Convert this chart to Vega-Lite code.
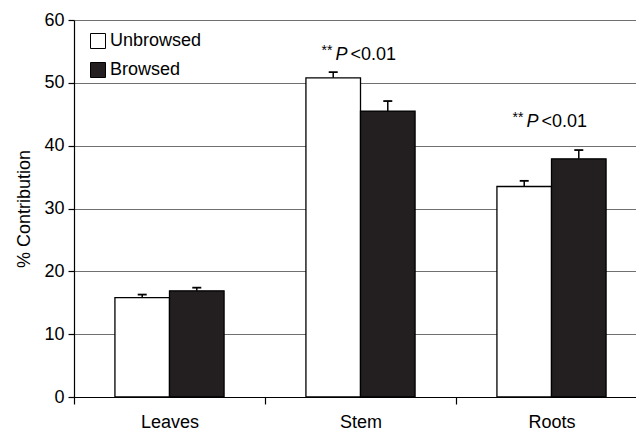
{
  "$schema": "https://vega.github.io/schema/vega-lite/v6.json",
  "width": 562,
  "height": 377,
  "autosize": {"type": "none"},
  "padding": {"left": 74, "top": 20, "right": 0, "bottom": 34},
  "background": "white",
  "config": {
    "font": "Liberation Sans",
    "view": {"stroke": null},
    "axis": {"labelColor": "black", "titleColor": "black", "domainColor": "black", "tickColor": "black", "labelFont": "Liberation Sans", "titleFont": "Liberation Sans"}
  },
  "datasets": {
    "bars": [
      {"organ": "Leaves", "treatment": "Unbrowsed", "value": 15.8, "upper": 16.3},
      {"organ": "Leaves", "treatment": "Browsed", "value": 16.9, "upper": 17.4},
      {"organ": "Stem", "treatment": "Unbrowsed", "value": 50.8, "upper": 51.7},
      {"organ": "Stem", "treatment": "Browsed", "value": 45.5, "upper": 47.1},
      {"organ": "Roots", "treatment": "Unbrowsed", "value": 33.5, "upper": 34.4},
      {"organ": "Roots", "treatment": "Browsed", "value": 37.9, "upper": 39.3}
    ],
    "notes": [
      {"organ": "Stem", "y": 53.6, "stars": "**", "p": "P", "rest": "\u00a0<0.01"},
      {"organ": "Roots", "y": 43.0, "stars": "**", "p": "P", "rest": "<0.01"}
    ]
  },
  "encoding": {
    "x": {
      "field": "organ", "type": "nominal", "sort": ["Leaves", "Stem", "Roots"],
      "scale": {"range": [0, 573], "paddingInner": 0, "paddingOuter": 0},
      "axis": {"title": null, "tickBand": "extent", "tickSize": 7, "labelFontSize": 18, "labelPadding": 9, "labelAngle": 0, "domainWidth": 1.2, "tickWidth": 1.2, "grid": false}
    }
  },
  "layer": [
    {
      "data": {"name": "bars"},
      "mark": {"type": "bar", "stroke": "black", "strokeWidth": 1.3, "opacity": 1},
      "encoding": {
        "xOffset": {"field": "treatment", "type": "nominal", "sort": ["Unbrowsed", "Browsed"], "scale": {"paddingInner": 0, "paddingOuter": 0.75}},
        "y": {
          "field": "value", "type": "quantitative",
          "scale": {"domain": [0, 60], "nice": false},
          "axis": {"title": "% Contribution", "titleFontSize": 18, "titleFontWeight": "normal", "titlePadding": 10, "values": [0, 10, 20, 30, 40, 50, 60], "labelFontSize": 18, "labelPadding": 4, "tickSize": 6, "tickWidth": 1.2, "domainWidth": 1.2, "grid": true, "gridColor": "#707070", "gridWidth": 1}
        },
        "color": {
          "field": "treatment", "type": "nominal",
          "scale": {"domain": ["Unbrowsed", "Browsed"], "range": ["white", "#231f20"]},
          "legend": {"title": null, "orient": "none", "legendX": 15, "legendY": 12, "padding": 0, "symbolType": "square", "symbolSize": 225, "symbolStrokeColor": "black", "symbolStrokeWidth": 1, "symbolOpacity": 1, "labelFontSize": 18, "labelColor": "black", "labelOffset": 3, "rowPadding": 9}
        }
      }
    },
    {
      "data": {"name": "bars"},
      "mark": {"type": "rule", "color": "black", "strokeWidth": 1.5},
      "encoding": {
        "xOffset": {"field": "treatment", "type": "nominal", "sort": ["Unbrowsed", "Browsed"]},
        "y": {"field": "value", "type": "quantitative"},
        "y2": {"field": "upper"}
      }
    },
    {
      "data": {"name": "bars"},
      "mark": {"type": "tick", "color": "black", "size": 9, "thickness": 1.8, "opacity": 1},
      "encoding": {
        "xOffset": {"field": "treatment", "type": "nominal", "sort": ["Unbrowsed", "Browsed"]},
        "y": {"field": "upper", "type": "quantitative"}
      }
    },
    {
      "data": {"name": "notes"},
      "mark": {"type": "text", "align": "left", "baseline": "alphabetic", "fontSize": 14, "dx": -39, "dy": -5, "color": "black"},
      "encoding": {"y": {"field": "y", "type": "quantitative"}, "text": {"field": "stars"}}
    },
    {
      "data": {"name": "notes"},
      "mark": {"type": "text", "align": "left", "baseline": "alphabetic", "fontSize": 18, "fontStyle": "italic", "dx": -25, "color": "black"},
      "encoding": {"y": {"field": "y", "type": "quantitative"}, "text": {"field": "p"}}
    },
    {
      "data": {"name": "notes"},
      "mark": {"type": "text", "align": "left", "baseline": "alphabetic", "fontSize": 18, "dx": -10, "color": "black"},
      "encoding": {"y": {"field": "y", "type": "quantitative"}, "text": {"field": "rest"}}
    }
  ]
}
